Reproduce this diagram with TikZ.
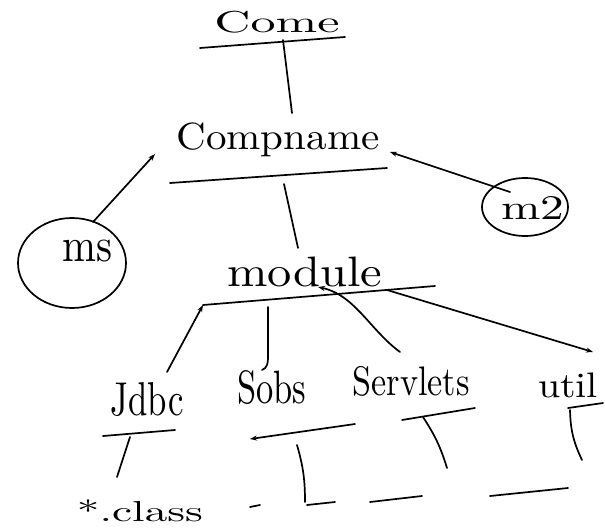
\documentclass[tikz,border=0pt]{standalone}
\usetikzlibrary{arrows.meta}
\newcommand{\hw}[3]{\resizebox*{#1pt}{#2pt}{#3}}
\begin{document}
\begin{tikzpicture}[x=1pt,y=-1pt,
  ink/.style={line width=1.7pt,black,line cap=round},
  arr/.style={ink,-{Stealth[length=7pt,width=5pt]}},
  lbl/.style={inner sep=0pt,anchor=center}]
\useasboundingbox (0,0) rectangle (605,530);
% labels
\node[lbl] (come) at (277,22) {\hw{125}{22}{Come}};
\node[lbl] (comp) at (278,140) {\hw{203}{34}{Compname}};
\node[lbl] (mod) at (305,272) {\hw{155}{30}{module}};
\node[lbl] (jdbc) at (147,400) {\hw{73}{34}{Jdbc}};
\node[lbl] (sobs) at (272,388) {\hw{69}{34}{Sobs}};
\node[lbl] (serv) at (411,381) {\hw{117}{30}{Servlets}};
\node[lbl] (util) at (568,385) {\hw{60}{25}{util}};
\node[lbl] (cls) at (140,511) {\hw{126}{22}{*.class}};
% bubbles
\draw[ink] (72,263) ellipse [x radius=54,y radius=45];
\node[lbl] (ms) at (88,251) {\hw{50}{22}{ms}};
\draw[ink] (525,207) ellipse [x radius=43,y radius=29];
\node[lbl] (m2) at (533,208) {\hw{63}{23}{m2}};
% underlines
\coordinate (cu1) at (200,48); \coordinate (cu2) at (345,37);
\draw[ink] (cu1) -- (cu2);
\coordinate (pu1) at (170,183); \coordinate (pu2) at (387,168);
\draw[ink] (pu1) -- (pu2);
\coordinate (mu1) at (203,305); \coordinate (mu2) at (435,286);
\draw[ink] (mu1) -- (mu2);
% trunk
\coordinate (t1) at (283,40); \coordinate (t2) at (292,113);
\draw[ink] (t1) -- (t2);
\coordinate (t3) at (284,184); \coordinate (t4) at (298,248);
\draw[ink] (t3) -- (t4);
% bubble links
\coordinate (msT) at (93,222); \coordinate (msA) at (155,154);
\draw[arr] (msT) -- (msA);
\coordinate (m2T) at (510,192); \coordinate (m2A) at (390,152);
\draw[arr] (m2T) -- (m2A);
% module children
\coordinate (jA) at (167,372);
\draw[arr] (jA) -- (mu1);
\coordinate (sA) at (268,307);
\draw[ink] (sA) -- (268,358) to[out=-90,in=20] (262,370);
\coordinate (vA) at (400,352); \coordinate (vB) at (318,287);
\draw[arr] (vA) .. controls (370,330) and (355,295) .. (vB);
\coordinate (uA) at (387,290); \coordinate (uB) at (593,352);
\draw[arr] (uA) -- (uB);
% Jdbc subtree
\draw[ink] (103,436) -- (175,430);
\draw[ink] (130,437) -- (117,477);
% Sobs subtree
\coordinate (sb1) at (355,424); \coordinate (sb2) at (250,439);
\draw[arr] (sb1) -- (sb2);
\draw[ink] (297,445) to[bend left=8] (305,502);
\draw[ink] (307,505) -- (335,502);
\draw[ink] (250,507) -- (260,505);
% Servlets subtree
\draw[ink] (402,420) -- (475,408);
\draw[ink] (423,417) to[bend left=8] (447,468);
\draw[ink] (370,502) -- (422,496);
% util subtree
\draw[ink] (568,408) -- (603,403);
\draw[ink] (570,410) to[bend right=12] (582,460);
\draw[ink] (490,496) -- (568,488);
\end{tikzpicture}
\end{document}
